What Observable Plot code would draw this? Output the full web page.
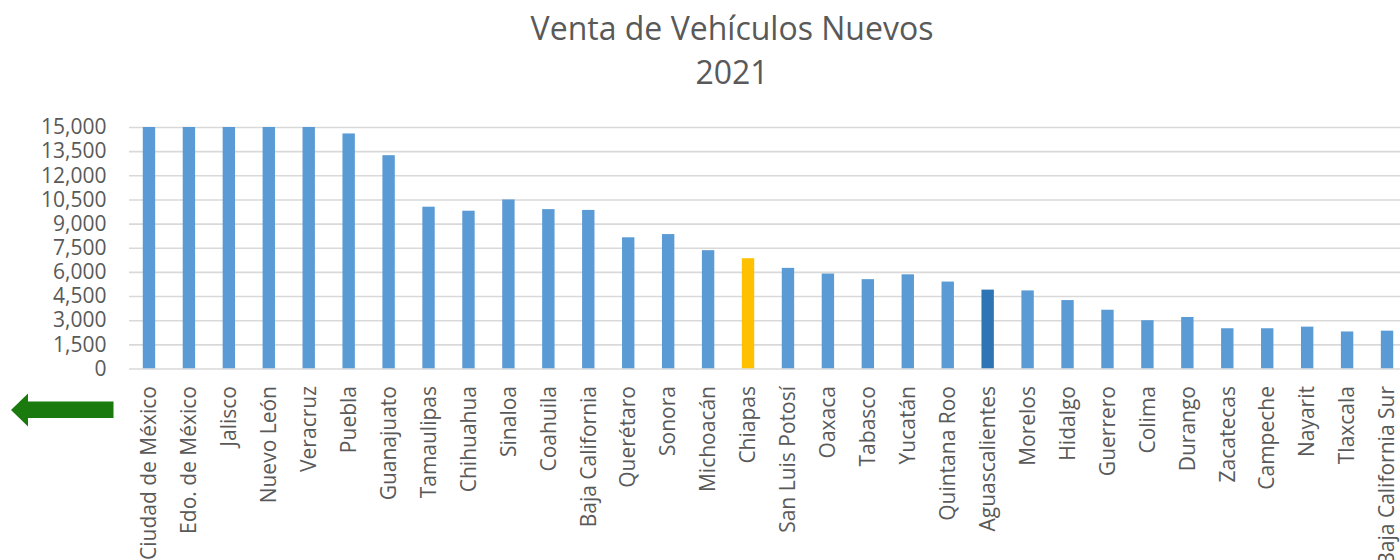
<!DOCTYPE html>
<html>
<head>
<meta charset="utf-8">
<script src="https://cdn.jsdelivr.net/npm/d3@7"></script>
<script src="https://cdn.jsdelivr.net/npm/@observablehq/plot@0.6"></script>
<style>
  html, body { margin: 0; padding: 0; background: #fff; overflow: hidden; }
  #wrap { position: relative; width: 1400px; height: 560px; overflow: hidden; font-family: "Open Sans", sans-serif; color: #595959; }
  #title { position: absolute; left: 432px; width: 600px; top: 6px; text-align: center; font-size: 32px; line-height: 44px; color: #595959; }
  #chart { position: absolute; left: 0; top: 0; width: 1430px; }
  #chart svg { max-width: none !important; }
  #arrow { position: absolute; left: 0; top: 380px; }
</style>
</head>
<body>
<div id="wrap">
  <div id="chart"></div>
  <div id="title">Venta de Vehículos Nuevos<br>2021</div>
  <svg id="arrow" width="130" height="60" viewBox="0 380 130 60">
    <polygon points="11,410 28,393.5 28,401.5 113.5,401.5 113.5,418 28,418 28,426.5" fill="#1a7a0e"/>
  </svg>
</div>
<script>
const estados = ["Ciudad de México","Edo. de México","Jalisco","Nuevo León","Veracruz","Puebla","Guanajuato","Tamaulipas","Chihuahua","Sinaloa","Coahuila","Baja California","Querétaro","Sonora","Michoacán","Chiapas","San Luis Potosí","Oaxaca","Tabasco","Yucatán","Quintana Roo","Aguascalientes","Morelos","Hidalgo","Guerrero","Colima","Durango","Zacatecas","Campeche","Nayarit","Tlaxcala","Baja California Sur"];
// first five bars exceed the axis maximum and are shown clipped at 15,000
const ventas = [15000,15000,15000,15000,15000,14600,13250,10050,9800,10500,9900,9850,8150,8350,7350,6850,6250,5900,5550,5850,5400,4900,4850,4250,3650,3000,3200,2500,2500,2600,2300,2350];
const resaltados = {"Chiapas": "#ffc000", "Aguascalientes": "#2e75b6"};
const yTicks = [0,1500,3000,4500,6000,7500,9000,10500,12000,13500,15000];

const data = estados.map((e, i) => ({estado: e, venta: ventas[i], color: resaltados[e] || "#5b9bd5"}));

const chart = Plot.plot({
  width: 1410,
  height: 560,
  marginLeft: 129,
  marginRight: 3,
  marginTop: 127,
  marginBottom: 191.5,
  style: {fontFamily: "Open Sans, sans-serif", fontSize: "21px", color: "#595959", background: "transparent", maxWidth: "none"},
  x: {domain: estados, range: [129, 1407], paddingInner: 0.69, paddingOuter: 0.345, align: 0.5, round: false, label: null},
  y: {domain: [0, 15000], label: null},
  marks: [
    Plot.ruleY(yTicks, {stroke: "#d9d9d9", strokeWidth: 1.6}),
    Plot.barY(data, {x: "estado", y: "venta", fill: "color", clip: true}),
    Plot.axisY({ticks: yTicks, tickFormat: d3.format(","), tickSize: 0, tickPadding: 23, fontSize: 21, fill: "#595959", label: null}),
    Plot.axisX({tickRotate: -90, tickSize: 0, tickPadding: 17, fontSize: 21, fill: "#595959", label: null})
  ]
});
document.getElementById("chart").appendChild(chart);
</script>
</body>
</html>
